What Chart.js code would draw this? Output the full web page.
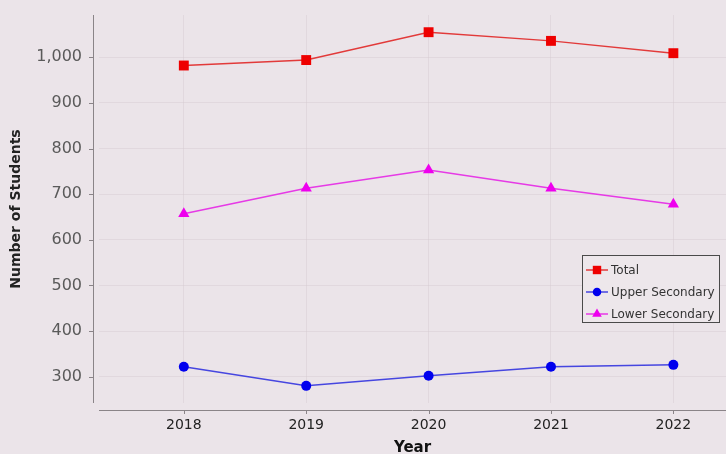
<!DOCTYPE html>
<html>
<head>
<meta charset="utf-8">
<title>Number of Students</title>
<script src="https://cdn.jsdelivr.net/npm/chart.js@4.4.0/dist/chart.umd.min.js"></script>
<style>
  html, body { margin: 0; padding: 0; background: #ebe4e9; }
  #wrap { width: 726px; height: 454px; position: relative; }
</style>
</head>
<body>
<div id="wrap"><canvas id="studentsChart"></canvas></div>
<script>
// data
const years = [2018, 2019, 2020, 2021, 2022];
const totalStudents = [982, 994, 1055, 1036, 1009];
const upperSecondary = [322, 280, 302, 322, 326];
const lowerSecondary = [657, 713, 753, 713, 678];
const yTicks = [300, 400, 500, 600, 700, 800, 900, 1000];

const FONT = "'DejaVu Sans', sans-serif";
const GRID = 'rgba(212,202,209,0.45)';

function points(values) {
    return years.map((yr, i) => ({ x: yr, y: values[i] }));
}

// ============================= axis lines, ticks and legend box

const framePlugin = {
    id: 'frame',
    afterDraw(chart) {
        const ctx = chart.ctx;
        const area = chart.chartArea;
        const xs = chart.scales.x;
        const ys = chart.scales.y;
        ctx.save();
        ctx.strokeStyle = '#8a8488';
        ctx.lineWidth = 1;
        ctx.beginPath();
        // y axis sits a few px left of the plot
        ctx.moveTo(93.5, area.top);
        ctx.lineTo(93.5, area.bottom);
        yTicks.forEach(v => {
            const y = Math.round(ys.getPixelForValue(v)) + 0.5;
            ctx.moveTo(89, y);
            ctx.lineTo(93.5, y);
        });
        // x axis sits a few px below the plot
        ctx.moveTo(area.left, 410.5);
        ctx.lineTo(area.right, 410.5);
        years.forEach(v => {
            const x = Math.round(xs.getPixelForValue(v)) + 0.5;
            ctx.moveTo(x, 410.5);
            ctx.lineTo(x, 414);
        });
        ctx.stroke();

        // legend
        const bx = 582.5, by = 255.5, bw = 137, bh = 67;
        ctx.fillStyle = '#ede7eb';
        ctx.fillRect(bx, by, bw, bh);
        ctx.strokeStyle = '#4a4a4a';
        ctx.strokeRect(bx, by, bw, bh);
        ctx.font = '12px ' + FONT;
        ctx.textBaseline = 'middle';
        ctx.textAlign = 'left';
        chart.data.datasets.forEach((ds, i) => {
            const y = 270 + i * 22;
            ctx.strokeStyle = ds.borderColor;
            ctx.lineWidth = 1.5;
            ctx.beginPath();
            ctx.moveTo(586, y);
            ctx.lineTo(608, y);
            ctx.stroke();
            ctx.fillStyle = ds.pointBackgroundColor;
            ctx.strokeStyle = ds.pointBackgroundColor;
            Chart.helpers.drawPoint(ctx, {
                pointStyle: ds.pointStyle,
                radius: ds.pointRadius * 0.85,
                rotation: 0,
                borderWidth: 0
            }, 597, y);
            ctx.fillStyle = '#333';
            ctx.fillText(ds.label, 611, y + 0.5);
        });
        ctx.restore();
    }
};

// ============================= line chart

const ctx = document.getElementById('studentsChart').getContext('2d');
const studentsChart = new Chart(ctx, {
    type: 'line',
    data: {
        datasets: [
            {
                label: 'Total',
                data: points(totalStudents),
                borderColor: '#e23a3a',
                pointBackgroundColor: '#ee0000',
                pointBorderColor: '#ee0000',
                pointStyle: 'rect',
                pointRadius: 7,
                pointBorderWidth: 0,
                borderWidth: 1.5
            },
            {
                label: 'Upper Secondary',
                data: points(upperSecondary),
                borderColor: '#4646e0',
                pointBackgroundColor: '#0000ee',
                pointBorderColor: '#0000ee',
                pointStyle: 'circle',
                pointRadius: 5,
                pointBorderWidth: 0,
                borderWidth: 1.5
            },
            {
                label: 'Lower Secondary',
                data: points(lowerSecondary),
                borderColor: '#e63ae6',
                pointBackgroundColor: '#ee00ee',
                pointBorderColor: '#ee00ee',
                pointStyle: 'triangle',
                pointRadius: 6.5,
                pointBorderWidth: 0,
                borderWidth: 1.5
            }
        ]
    },
    options: {
        responsive: true,
        maintainAspectRatio: false,
        animation: false,
        layout: {
            autoPadding: false,
            padding: { top: 15, right: 0, left: 0, bottom: 0 }
        },
        plugins: {
            legend: { display: false },
            tooltip: { enabled: false }
        },
        scales: {
            x: {
                type: 'linear',
                min: 2017.307,
                max: 2022.43,
                afterBuildTicks: s => { s.ticks = years.map(v => ({ value: v })); },
                afterFit: s => {
                    s.height = 51;
                    s.paddingLeft = 0;
                    s.paddingRight = 0;
                },
                border: { display: false },
                grid: { color: GRID, drawTicks: false },
                ticks: {
                    callback: v => String(v),
                    font: { family: FONT, size: 14 },
                    color: '#222',
                    padding: 14,
                    maxRotation: 0
                },
                title: {
                    display: true,
                    text: 'Year',
                    font: { family: FONT, size: 15, weight: 'bold' },
                    color: '#111',
                    padding: { top: 0, bottom: -3 }
                }
            },
            y: {
                min: 242.4,
                max: 1092.7,
                afterBuildTicks: s => { s.ticks = yTicks.map(v => ({ value: v })); },
                afterFit: s => {
                    s.width = 99;
                    s.paddingTop = 0;
                    s.paddingBottom = 0;
                },
                border: { display: false },
                grid: { color: GRID, drawTicks: false },
                ticks: {
                    callback: v => v.toLocaleString('en-US'),
                    font: { family: FONT, size: 16 },
                    color: '#5a5a5a',
                    padding: 17
                },
                title: {
                    display: true,
                    text: 'Number of Students',
                    font: { family: FONT, size: 14, weight: 'bold' },
                    color: '#222',
                    padding: { top: 8, bottom: 0 }
                }
            }
        }
    },
    plugins: [framePlugin]
});
</script>
</body>
</html>
